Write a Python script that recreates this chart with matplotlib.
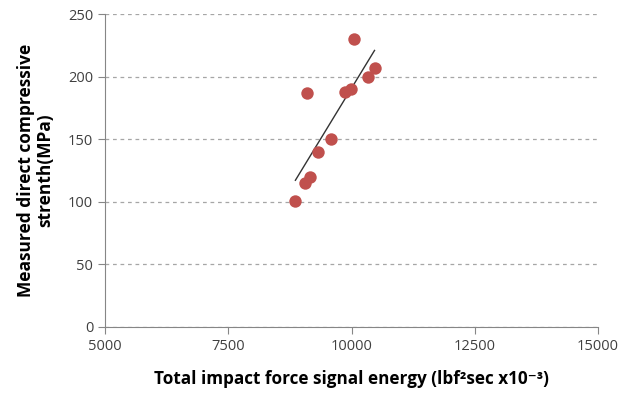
import matplotlib.pyplot as plt
import numpy as np

# values
energy = [8862, 9065, 9167, 9106, 9330, 9593, 9878, 9980, 10041, 10325, 10467]
strength = [101, 115, 120, 187, 140, 150, 187.5, 190, 230, 200, 207]
xticks = [5000, 7500, 10000, 12500, 15000]
yticks = [0, 50, 100, 150, 200, 250]

plt.rcParams['font.family'] = ['Open Sans', 'DejaVu Sans']

fig = plt.figure(figsize=(6.34, 3.94), dpi=100)
ax = fig.add_axes([105 / 634, 1 - 327 / 394, (598 - 105) / 634, (327 - 14) / 394])

ax.scatter(energy, strength, s=80, color='#C0504D', zorder=3, linewidths=0)

# linear trendline over the data range
k, b = np.polyfit(energy, strength, 1)
xl = np.array([min(energy), max(energy)])
ax.plot(xl, k * xl + b, color='#333333', lw=1.0, zorder=2)

ax.set_xlim(5000, 15000)
ax.set_ylim(0, 250)
ax.set_xticks(xticks)
ax.set_yticks(yticks)
ax.tick_params(labelsize=10.5, labelcolor='#404040', length=5, color='#868686')
ax.yaxis.grid(True, linestyle=(0, (3, 3)), color='#A6A6A6', lw=0.9)
ax.set_axisbelow(True)
for s in ['top', 'right']:
    ax.spines[s].set_visible(False)
for s in ['left', 'bottom']:
    ax.spines[s].set_color('#868686')

ax.set_xlabel('Total impact force signal energy (lbf²sec x10⁻³)',
              fontsize=12.3, fontweight='bold', labelpad=12)
ax.set_ylabel('Measured direct compressive\nstrenth(MPa)',
              fontsize=12.5, fontweight='bold', labelpad=10, linespacing=1.1)

fig.savefig('out.png', dpi=100)
